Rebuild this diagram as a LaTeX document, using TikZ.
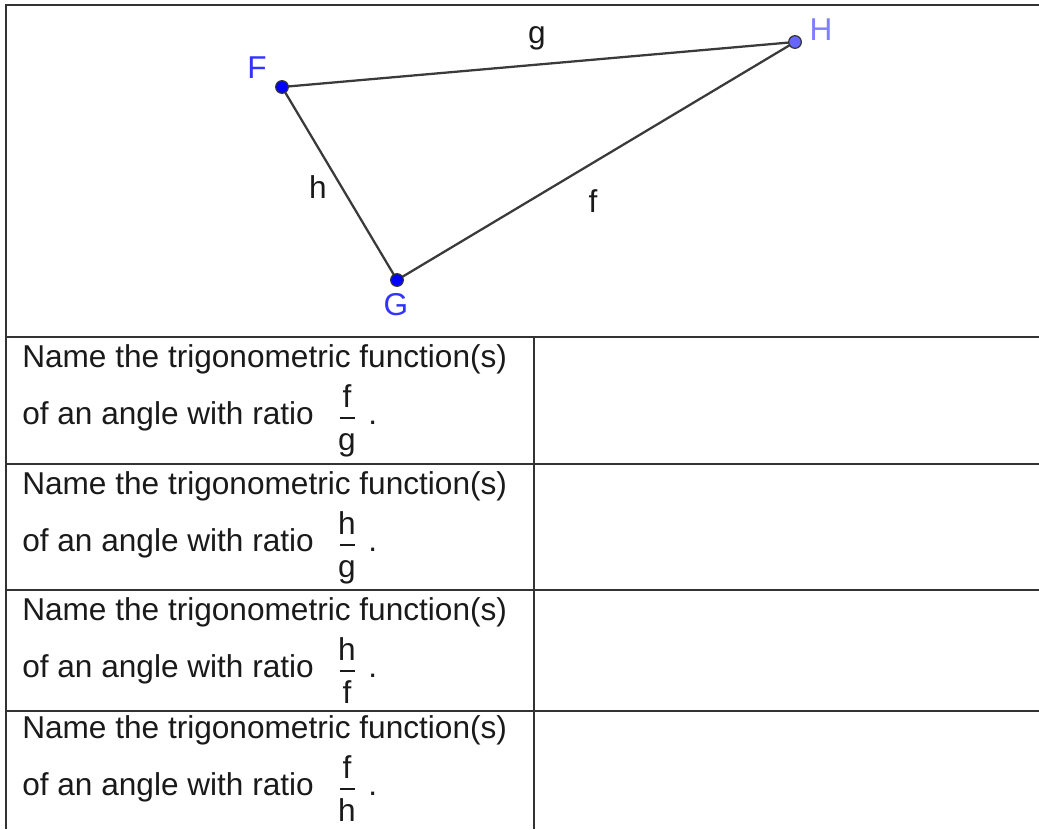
\documentclass[tikz,border=0pt]{standalone}
\usepackage{fontspec}
\setmainfont{Liberation Sans}
\usetikzlibrary{positioning}
\definecolor{ptblue}{HTML}{0000FF}
\definecolor{ptlight}{HTML}{6666FF}
\definecolor{lblblue}{HTML}{3333FF}
\definecolor{lbllight}{HTML}{8080FF}
\definecolor{rulegray}{HTML}{333333}
\definecolor{edgegray}{HTML}{3A3A3A}
\definecolor{txtgray}{HTML}{1A1A1A}

\begin{document}
\begin{tikzpicture}[x=0.75pt, y=-0.75pt,
  every node/.style={font=\fontsize{23.7}{28}\selectfont, inner sep=0pt, text=txtgray},
  rule/.style={line width=1.5pt, rulegray},
  edge/.style={line width=1.7pt, edgegray},
  bar/.style={line width=1.1pt, txtgray},
  pt/.style={circle, draw=black!80, line width=0.9pt, fill=ptblue, minimum size=9.5pt},
  ptfree/.style={pt, fill=ptlight},
  vlabel/.style={text=lblblue, anchor=base},
  elabel/.style={anchor=base}]
  \useasboundingbox (0,0) rectangle (1039,829);
  % frame and table rules
  \draw[rule] (1039,5) -- (6,5) -- (6,829);
  \foreach \yr in {337,464,590,711}
    \draw[rule] (6,\yr) -- (1039,\yr);
  \draw[rule] (534,337) -- (534,829);
  % triangle
  \coordinate (F) at (282,87);
  \coordinate (H) at (795,42);
  \coordinate (G) at (397,280);
  \draw[edge] (F) -- (H) -- (G) -- cycle;
  \node[pt] (Fpt) at (F) {};
  \node[pt] (Gpt) at (G) {};
  \node[ptfree] (Hpt) at (H) {};
  \node[vlabel] (Flbl) at (257,78) {F};
  \node[vlabel, text=lbllight] (Hlbl) at (821,40) {H};
  \node[vlabel] (Glbl) at (396,315) {G};
  \node[elabel] (glbl) at (537,43) {g};
  \node[elabel] (hlbl) at (318,198) {h};
  \node[elabel] (flbl) at (593,212) {f};
  % question rows
  \foreach \r/\yb/\nm/\dn in {1/367/f/g, 2/494/h/g, 3/620/h/f, 4/738/f/h} {
    \node[anchor=base west] (name\r) at (22,\yb) {Name the trigonometric function(s)};
    \node[anchor=base west] (ratio\r) at (22,\yb+57) {of an angle with ratio};
    \node[anchor=base] (num\r) at (347,\yb+40) {\nm};
    \node[anchor=base] (den\r) at (347,\yb+83) {\dn};
    \draw[bar] (340,\yb+51) -- (355,\yb+51);
    \node[anchor=base west] (dot\r) at (368,\yb+57) {.};
  }
\end{tikzpicture}
\end{document}
